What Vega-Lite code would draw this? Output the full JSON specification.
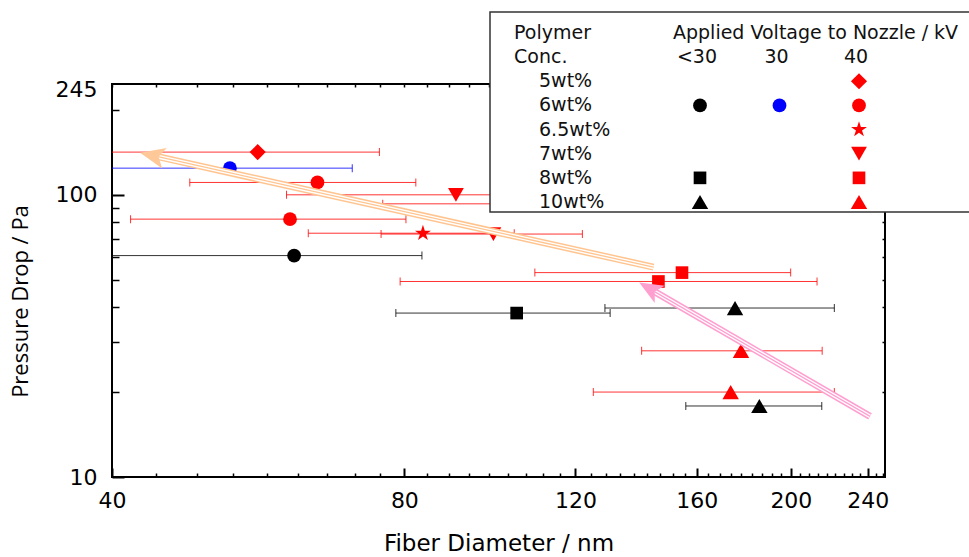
{
  "$schema": "https://vega.github.io/schema/vega-lite/v6.json",
  "width": 773,
  "height": 393,
  "autosize": {"type": "none"},
  "padding": {"left": 112, "top": 84, "right": 84, "bottom": 80},
  "background": "white",
  "config": {
    "view": {"stroke": "black", "strokeWidth": 2},
    "axis": {"domain": false, "grid": false, "tickColor": "black", "labelColor": "black", "labelFont": "DejaVu Sans", "labelFontSize": 22, "titleColor": "black", "titleFontWeight": "normal", "labelFlush": false, "labelOverlap": false, "labelBound": false}
  },
  "datasets": {
    "pts": [
      {"conc": "5wt%", "volt": "40", "d": 56.5, "lo": 37.6, "hi": 75.4, "p": 141.7},
      {"conc": "6wt%", "volt": "30", "d": 52.9, "lo": 35.1, "hi": 70.7, "p": 124.3},
      {"conc": "6wt%", "volt": "40", "d": 65.1, "lo": 48.1, "hi": 82.2, "p": 110.6},
      {"conc": "7wt%", "volt": "40", "d": 90.4, "lo": 60.5, "hi": 120.3, "p": 100},
      {"conc": "7wt%", "volt": "40", "d": 112, "lo": 76.0, "hi": 148, "p": 92.9},
      {"conc": "6wt%", "volt": "40", "d": 61.0, "lo": 41.8, "hi": 80.3, "p": 82.0},
      {"conc": "6.5wt%", "volt": "40", "d": 83.6, "lo": 63.7, "hi": 103.8, "p": 73.1},
      {"conc": "7wt%", "volt": "40", "d": 98.8, "lo": 75.7, "hi": 122.0, "p": 72.6},
      {"conc": "6wt%", "volt": "<30", "d": 61.6, "lo": 39.8, "hi": 83.4, "p": 60.9},
      {"conc": "8wt%", "volt": "40", "d": 154.5, "lo": 109.0, "hi": 199.9, "p": 53.0},
      {"conc": "8wt%", "volt": "40", "d": 146.1, "lo": 79.2, "hi": 212.8, "p": 49.3},
      {"conc": "10wt%", "volt": "<30", "d": 175.2, "lo": 128.7, "hi": 221.7, "p": 39.7},
      {"conc": "8wt%", "volt": "<30", "d": 104.4, "lo": 78.4, "hi": 130.3, "p": 38.1},
      {"conc": "10wt%", "volt": "40", "d": 177.7, "lo": 140.4, "hi": 215.4, "p": 28.0},
      {"conc": "10wt%", "volt": "40", "d": 173.4, "lo": 125.2, "hi": 221.7, "p": 20.0},
      {"conc": "10wt%", "volt": "<30", "d": 185.6, "lo": 155.9, "hi": 215.2, "p": 17.85}
    ],
    "arrows": [
      {"arrow": "A", "end": "tail", "d": 144.4, "p": 55.4},
      {"arrow": "A", "end": "neck", "d": 44.6, "p": 136.5},
      {"arrow": "A", "end": "head", "d": 42.75, "p": 141},
      {"arrow": "B", "end": "tail", "d": 241.3, "p": 16.4},
      {"arrow": "B", "end": "neck", "d": 144.9, "p": 45.3},
      {"arrow": "B", "end": "head", "d": 139.6, "p": 48.9}
    ],
    "legSym": [
      {"conc": "5wt%", "volt": "40"},
      {"conc": "6wt%", "volt": "<30"},
      {"conc": "6wt%", "volt": "30"},
      {"conc": "6wt%", "volt": "40"},
      {"conc": "6.5wt%", "volt": "40"},
      {"conc": "7wt%", "volt": "40"},
      {"conc": "8wt%", "volt": "<30"},
      {"conc": "8wt%", "volt": "40"},
      {"conc": "10wt%", "volt": "<30"},
      {"conc": "10wt%", "volt": "40"}
    ],
    "legRow": [
      {"conc": "5wt%"}, {"conc": "6wt%"}, {"conc": "6.5wt%"}, {"conc": "7wt%"}, {"conc": "8wt%"}, {"conc": "10wt%"}
    ],
    "legHdr": [
      {"row": "Polymer", "label": "Polymer"},
      {"row": "Conc.", "label": "Conc."}
    ],
    "legVoltTitle": [
      {"row": "Polymer", "label": "Applied Voltage to Nozzle / kV"}
    ],
    "legVolt": [
      {"volt": "<30"}, {"volt": "30"}, {"volt": "40"}
    ]
  },
  "layer": [
    {
      "layer": [
        {
          "data": {"name": "pts"},
          "mark": {"type": "rule", "strokeWidth": 1, "opacity": 0.8, "clip": true},
          "encoding": {
            "x": {"field": "lo", "type": "quantitative", "scale": {"type": "log", "domain": [40, 250], "nice": false},
              "axis": {"orient": "bottom", "values": [40, 80, 120, 160, 200, 240], "format": "d", "tickSize": -9, "tickWidth": 2, "labelPadding": 22,
                "title": "Fiber Diameter / nm", "titleFont": "DejaVu Sans", "titleFontSize": 23, "titleY": 55, "titleBaseline": "top", "titleAnchor": "middle"}},
            "x2": {"field": "hi"},
            "y": {"field": "p", "type": "quantitative", "scale": {"type": "log", "domain": [10, 247], "nice": false},
              "axis": {"orient": "left", "values": [10, 100], "format": "d", "tickSize": -12, "tickWidth": 2, "labelPadding": 27,
                "title": "Pressure Drop / Pa", "titleFont": "Open Sans", "titleFontSize": 22, "titleX": -92, "titleY": 217, "titleAngle": -90, "titleAlign": "center", "titleBaseline": "middle"}},
            "color": {"field": "volt", "type": "nominal", "scale": {"domain": ["<30", "30", "40"], "range": ["#000000", "#0000ff", "#ff0000"]}, "legend": null}
          }
        },
        {
          "data": {"name": "pts"},
          "mark": {"type": "tick", "orient": "vertical", "size": 8, "thickness": 1, "opacity": 0.8, "clip": true},
          "encoding": {
            "x": {"field": "lo", "type": "quantitative", "scale": {"type": "log", "domain": [40, 250], "nice": false},
              "axis": {"orient": "bottom", "values": [44.44,48.89,53.33,57.78,62.22,66.67,71.11,75.56,84.44,88.89,93.33,97.78,102.22,106.67,111.11,115.56,124.44,128.89,133.33,137.78,142.22,146.67,151.11,155.56,164.44,168.89,173.33,177.78,182.22,186.67,191.11,195.56,204.44,208.89,213.33,217.78,222.22,226.67,231.11,235.56,244.44,248.89],
                "labels": false, "tickSize": -4, "tickWidth": 1.5, "title": null}},
            "y": {"field": "p", "type": "quantitative", "scale": {"type": "log", "domain": [10, 247], "nice": false},
              "axis": {"orient": "left", "values": [20, 30, 40, 50, 60, 70, 80, 90, 200], "labels": false, "tickSize": -7, "tickWidth": 1.5, "title": null}},
            "color": {"field": "volt", "type": "nominal", "scale": {"domain": ["<30", "30", "40"], "range": ["#000000", "#0000ff", "#ff0000"]}, "legend": null}
          }
        },
        {
          "data": {"name": "pts"},
          "mark": {"type": "tick", "orient": "vertical", "size": 8, "thickness": 1, "opacity": 0.8, "clip": true},
          "encoding": {
            "x": {"field": "hi", "type": "quantitative", "scale": {"type": "log", "domain": [40, 250], "nice": false},
              "axis": {"orient": "top", "values": [40,44.44,48.89,53.33,57.78,62.22,66.67,71.11,75.56,80,84.44,88.89,93.33,97.78,102.22,106.67,111.11,115.56,120,124.44,128.89,133.33,137.78,142.22,146.67,151.11,155.56,160,164.44,168.89,173.33,177.78,182.22,186.67,191.11,195.56,200,204.44,208.89,213.33,217.78,222.22,226.67,231.11,235.56,240,244.44,248.89],
                "labels": false, "tickSize": -3, "tickWidth": 1.5, "title": null}},
            "y": {"field": "p", "type": "quantitative", "scale": {"type": "log", "domain": [10, 247], "nice": false},
              "axis": {"orient": "right", "values": [20, 30, 40, 50, 60, 70, 80, 90, 100, 200], "labels": false, "tickSize": -3, "tickWidth": 1.5, "title": null}},
            "color": {"field": "volt", "type": "nominal", "scale": {"domain": ["<30", "30", "40"], "range": ["#000000", "#0000ff", "#ff0000"]}, "legend": null}
          }
        },
        {
          "data": {"name": "pts"},
          "mark": {"type": "point", "filled": true, "opacity": 1, "strokeWidth": 0, "clip": true},
          "encoding": {
            "x": {"field": "d", "type": "quantitative", "scale": {"type": "log", "domain": [40, 250], "nice": false}, "axis": null},
            "y": {"field": "p", "type": "quantitative", "scale": {"type": "log", "domain": [10, 247], "nice": false},
              "axis": {"orient": "left", "values": [245], "format": "d", "ticks": false, "labelPadding": 15, "labelOffset": 5, "title": null}},
            "color": {"field": "volt", "type": "nominal", "scale": {"domain": ["<30", "30", "40"], "range": ["#000000", "#0000ff", "#ff0000"]}, "legend": null},
            "shape": {"field": "conc", "type": "nominal", "scale": {"domain": ["5wt%", "6wt%", "6.5wt%", "7wt%", "8wt%", "10wt%"], "range": ["diamond", "circle", "M0,-1L0.2245,-0.309L0.951,-0.309L0.363,0.118L0.588,0.809L0,0.382L-0.588,0.809L-0.363,0.118L-0.951,-0.309L-0.2245,-0.309Z", "triangle-down", "square", "triangle-up"]}, "legend": null},
            "size": {"field": "conc", "type": "nominal", "scale": {"type": "ordinal", "domain": ["5wt%", "6wt%", "6.5wt%", "7wt%", "8wt%", "10wt%"], "range": [260, 190, 280, 250, 160, 270]}, "legend": null}
          }
        },
        {
          "data": {"name": "arrows"},
          "transform": [{"filter": "datum.end != 'head'"}],
          "mark": {"type": "line", "strokeWidth": 7, "strokeCap": "butt", "clip": true},
          "encoding": {
            "x": {"field": "d", "type": "quantitative", "scale": {"type": "log", "domain": [40, 250], "nice": false}, "axis": null},
            "y": {"field": "p", "type": "quantitative", "scale": {"type": "log", "domain": [10, 247], "nice": false}, "axis": null},
            "stroke": {"field": "arrow", "type": "nominal", "scale": {"domain": ["A", "B"], "range": ["#ffc48f", "#ff9fd0"]}, "legend": null}
          }
        },
        {
          "data": {"name": "arrows"},
          "transform": [{"filter": "datum.end != 'head'"}],
          "mark": {"type": "line", "strokeWidth": 4, "color": "white", "strokeCap": "butt", "clip": true},
          "encoding": {
            "x": {"field": "d", "type": "quantitative", "scale": {"type": "log", "domain": [40, 250], "nice": false}, "axis": null},
            "y": {"field": "p", "type": "quantitative", "scale": {"type": "log", "domain": [10, 247], "nice": false}, "axis": null},
            "detail": {"field": "arrow", "type": "nominal"}
          }
        },
        {
          "data": {"name": "arrows"},
          "transform": [{"filter": "datum.end != 'head'"}],
          "mark": {"type": "line", "strokeWidth": 1.3, "strokeCap": "butt", "clip": true},
          "encoding": {
            "x": {"field": "d", "type": "quantitative", "scale": {"type": "log", "domain": [40, 250], "nice": false}, "axis": null},
            "y": {"field": "p", "type": "quantitative", "scale": {"type": "log", "domain": [10, 247], "nice": false}, "axis": null},
            "stroke": {"field": "arrow", "type": "nominal", "scale": {"domain": ["A", "B"], "range": ["#ffc48f", "#ff9fd0"]}, "legend": null}
          }
        },
        {
          "data": {"name": "arrows"},
          "transform": [{"filter": "datum.end == 'head' && datum.arrow == 'A'"}],
          "mark": {"type": "point", "filled": true, "opacity": 1, "strokeWidth": 0, "color": "#ffc898", "shape": "M0,0L2.5,-1.05L1.9,0L2.5,1.05Z", "size": 400, "angle": 12.6, "clip": true},
          "encoding": {
            "x": {"field": "d", "type": "quantitative", "scale": {"type": "log", "domain": [40, 250], "nice": false}, "axis": null},
            "y": {"field": "p", "type": "quantitative", "scale": {"type": "log", "domain": [10, 247], "nice": false}, "axis": null}
          }
        },
        {
          "data": {"name": "arrows"},
          "transform": [{"filter": "datum.end == 'head' && datum.arrow == 'B'"}],
          "mark": {"type": "point", "filled": true, "opacity": 1, "strokeWidth": 0, "color": "#ff9fd0", "shape": "M0,0L2.5,-1.05L1.9,0L2.5,1.05Z", "size": 360, "angle": 30.2, "clip": true},
          "encoding": {
            "x": {"field": "d", "type": "quantitative", "scale": {"type": "log", "domain": [40, 250], "nice": false}, "axis": null},
            "y": {"field": "p", "type": "quantitative", "scale": {"type": "log", "domain": [10, 247], "nice": false}, "axis": null}
          }
        }
      ],
      "resolve": {"axis": {"x": "independent", "y": "independent"}}
    },
    {
      "layer": [
        {
          "data": {"values": [{}]},
          "mark": {"type": "rect", "fill": "white", "stroke": "#333333", "strokeWidth": 1.5, "xOffset": -210, "x2Offset": 120, "yOffset": -21, "y2Offset": 10},
          "encoding": {
            "x": {"datum": "<30", "type": "nominal", "scale": {"type": "point", "domain": ["<30", "30", "40"], "range": [588, 747], "padding": 0}, "axis": null},
            "x2": {"datum": "40"},
            "y": {"datum": "Polymer", "type": "nominal", "scale": {"type": "point", "domain": ["Polymer", "Conc.", "5wt%", "6wt%", "6.5wt%", "7wt%", "8wt%", "10wt%"], "range": [-51, 118], "padding": 0}, "axis": null},
            "y2": {"datum": "10wt%"}
          }
        },
        {
          "data": {"name": "legHdr"},
          "mark": {"type": "text", "align": "left", "baseline": "middle", "dx": -186, "font": "DejaVu Sans", "fontSize": 19, "color": "#111111"},
          "encoding": {
            "x": {"datum": "<30", "type": "nominal", "scale": {"type": "point", "domain": ["<30", "30", "40"], "range": [588, 747], "padding": 0}, "axis": null},
            "y": {"field": "row", "type": "nominal", "scale": {"type": "point", "domain": ["Polymer", "Conc.", "5wt%", "6wt%", "6.5wt%", "7wt%", "8wt%", "10wt%"], "range": [-51, 118], "padding": 0}, "axis": null},
            "text": {"field": "label"}
          }
        },
        {
          "data": {"name": "legVoltTitle"},
          "mark": {"type": "text", "align": "left", "baseline": "middle", "dx": -27, "font": "DejaVu Sans", "fontSize": 19, "color": "#111111"},
          "encoding": {
            "x": {"datum": "<30", "type": "nominal", "scale": {"type": "point", "domain": ["<30", "30", "40"], "range": [588, 747], "padding": 0}, "axis": null},
            "y": {"field": "row", "type": "nominal", "scale": {"type": "point", "domain": ["Polymer", "Conc.", "5wt%", "6wt%", "6.5wt%", "7wt%", "8wt%", "10wt%"], "range": [-51, 118], "padding": 0}, "axis": null},
            "text": {"field": "label"}
          }
        },
        {
          "data": {"name": "legVolt"},
          "mark": {"type": "text", "align": "center", "baseline": "middle", "dx": -3, "font": "DejaVu Sans", "fontSize": 19, "color": "#111111"},
          "encoding": {
            "x": {"field": "volt", "type": "nominal", "scale": {"type": "point", "domain": ["<30", "30", "40"], "range": [588, 747], "padding": 0}, "axis": null},
            "y": {"datum": "Conc.", "type": "nominal", "scale": {"type": "point", "domain": ["Polymer", "Conc.", "5wt%", "6wt%", "6.5wt%", "7wt%", "8wt%", "10wt%"], "range": [-51, 118], "padding": 0}, "axis": null},
            "text": {"field": "volt"}
          }
        },
        {
          "data": {"name": "legRow"},
          "mark": {"type": "text", "align": "left", "baseline": "middle", "dx": -161, "font": "DejaVu Sans", "fontSize": 19, "color": "#111111"},
          "encoding": {
            "x": {"datum": "<30", "type": "nominal", "scale": {"type": "point", "domain": ["<30", "30", "40"], "range": [588, 747], "padding": 0}, "axis": null},
            "y": {"field": "conc", "type": "nominal", "scale": {"type": "point", "domain": ["Polymer", "Conc.", "5wt%", "6wt%", "6.5wt%", "7wt%", "8wt%", "10wt%"], "range": [-51, 118], "padding": 0}, "axis": null},
            "text": {"field": "conc"}
          }
        },
        {
          "data": {"name": "legSym"},
          "mark": {"type": "point", "filled": true, "opacity": 1, "strokeWidth": 0},
          "encoding": {
            "x": {"field": "volt", "type": "nominal", "scale": {"type": "point", "domain": ["<30", "30", "40"], "range": [588, 747], "padding": 0}, "axis": null},
            "y": {"field": "conc", "type": "nominal", "scale": {"type": "point", "domain": ["Polymer", "Conc.", "5wt%", "6wt%", "6.5wt%", "7wt%", "8wt%", "10wt%"], "range": [-51, 118], "padding": 0}, "axis": null},
            "color": {"field": "volt", "type": "nominal", "scale": {"domain": ["<30", "30", "40"], "range": ["#000000", "#0000ff", "#ff0000"]}, "legend": null},
            "shape": {"field": "conc", "type": "nominal", "scale": {"domain": ["5wt%", "6wt%", "6.5wt%", "7wt%", "8wt%", "10wt%"], "range": ["diamond", "circle", "M0,-1L0.2245,-0.309L0.951,-0.309L0.363,0.118L0.588,0.809L0,0.382L-0.588,0.809L-0.363,0.118L-0.951,-0.309L-0.2245,-0.309Z", "triangle-down", "square", "triangle-up"]}, "legend": null},
            "size": {"field": "conc", "type": "nominal", "scale": {"type": "ordinal", "domain": ["5wt%", "6wt%", "6.5wt%", "7wt%", "8wt%", "10wt%"], "range": [260, 190, 280, 250, 160, 270]}, "legend": null}
          }
        }
      ]
    }
  ],
  "resolve": {"scale": {"x": "independent", "y": "independent"}}
}
